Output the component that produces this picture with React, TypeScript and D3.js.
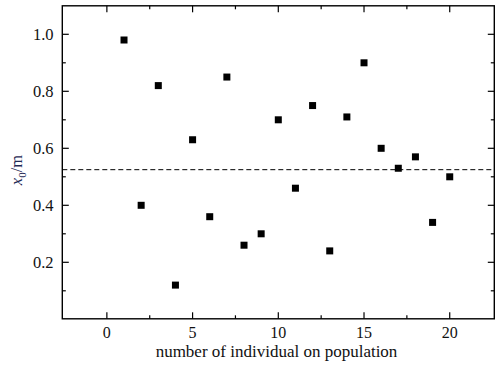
import { useEffect, useRef } from 'react';
import * as d3 from 'd3';

const individuals = [1, 2, 3, 4, 5, 6, 7, 8, 9, 10, 11, 12, 13, 14, 15, 16, 17, 18, 19, 20];
const x0Values = [0.98, 0.4, 0.82, 0.12, 0.63, 0.36, 0.85, 0.26, 0.3, 0.7, 0.46, 0.75, 0.24, 0.71, 0.9, 0.6, 0.53, 0.57, 0.34, 0.5];
const referenceLevel = 0.525;

const xMajorTicks = [0, 5, 10, 15, 20];
const xMinorTicks = [2.5, 7.5, 12.5, 17.5];
const yMajorTicks = [0.2, 0.4, 0.6, 0.8, 1.0];
const yMinorTicks = [0.1, 0.3, 0.5, 0.7, 0.9];

export default function App() {
  const svgRef = useRef<SVGSVGElement | null>(null);

  useEffect(() => {
    const svgElement = svgRef.current;
    if (!svgElement) {
      return;
    }
    const svg = d3.select(svgElement);
    svg.selectAll('*').remove();

    const width = 504;
    const height = 369;
    const left = 62.3;
    const right = 494.3;
    const top = 5.8;
    const bottom = 318.8;

    svg.attr('width', width).attr('height', height).attr('viewBox', `0 0 ${width} ${height}`);

    const x = d3.scaleLinear().domain([-2.6, 22.6]).range([left, right]);
    const y = d3.scaleLinear().domain([0, 1.1]).range([319.3, 5.8]);

    const font = '"Liberation Serif", "Times New Roman", serif';
    const ink = '#111';

    // reference line
    svg
      .append('line')
      .attr('x1', left)
      .attr('x2', right)
      .attr('y1', y(referenceLevel))
      .attr('y2', y(referenceLevel))
      .attr('stroke', '#000')
      .attr('stroke-width', 1)
      .attr('stroke-dasharray', '5 3');

    // points
    const points = individuals.map((n, i) => ({ n, v: x0Values[i]! }));
    const size = 7;
    svg
      .append('g')
      .selectAll('rect')
      .data(points)
      .join('rect')
      .attr('x', (d) => x(d.n) - size / 2)
      .attr('y', (d) => y(d.v) - size / 2)
      .attr('width', size)
      .attr('height', size)
      .attr('fill', '#000');

    // ticks on all four sides, pointing inward
    const ticks = svg.append('g').attr('stroke', '#000').attr('stroke-width', 1.2);
    const major = 6.5;
    const minor = 3.5;
    const xTicks = [...xMajorTicks.map((v) => ({ v, len: major })), ...xMinorTicks.map((v) => ({ v, len: minor }))];
    const yTicks = [...yMajorTicks.map((v) => ({ v, len: major })), ...yMinorTicks.map((v) => ({ v, len: minor }))];

    ticks
      .selectAll('line.xb')
      .data(xTicks)
      .join('line')
      .attr('class', 'xb')
      .attr('x1', (d) => x(d.v))
      .attr('x2', (d) => x(d.v))
      .attr('y1', bottom)
      .attr('y2', (d) => bottom - d.len);
    ticks
      .selectAll('line.xt')
      .data(xTicks)
      .join('line')
      .attr('class', 'xt')
      .attr('x1', (d) => x(d.v))
      .attr('x2', (d) => x(d.v))
      .attr('y1', top)
      .attr('y2', (d) => top + d.len);
    ticks
      .selectAll('line.yl')
      .data(yTicks)
      .join('line')
      .attr('class', 'yl')
      .attr('y1', (d) => y(d.v))
      .attr('y2', (d) => y(d.v))
      .attr('x1', left)
      .attr('x2', (d) => left + d.len);
    ticks
      .selectAll('line.yr')
      .data(yTicks)
      .join('line')
      .attr('class', 'yr')
      .attr('y1', (d) => y(d.v))
      .attr('y2', (d) => y(d.v))
      .attr('x1', right)
      .attr('x2', (d) => right - d.len);

    // frame
    svg
      .append('rect')
      .attr('x', left)
      .attr('y', top)
      .attr('width', right - left)
      .attr('height', bottom - top)
      .attr('fill', 'none')
      .attr('stroke', '#000')
      .attr('stroke-width', 1.4);

    // tick labels
    svg
      .append('g')
      .selectAll('text')
      .data(xMajorTicks)
      .join('text')
      .attr('x', (d) => x(d))
      .attr('y', 338)
      .attr('text-anchor', 'middle')
      .attr('font-family', font)
      .attr('font-size', 16)
      .attr('fill', ink)
      .text((d) => d3.format('d')(d));

    svg
      .append('g')
      .selectAll('text')
      .data(yMajorTicks)
      .join('text')
      .attr('x', 53.5)
      .attr('y', (d) => y(d) + 6)
      .attr('text-anchor', 'end')
      .attr('font-family', font)
      .attr('font-size', 16.5)
      .attr('fill', ink)
      .text((d) => d3.format('.1f')(d));

    // axis titles
    svg
      .append('text')
      .attr('x', 276.5)
      .attr('y', 357)
      .attr('text-anchor', 'middle')
      .attr('font-family', font)
      .attr('font-size', 17)
      .attr('fill', ink)
      .text('number of individual on population');

    const yTitle = svg
      .append('text')
      .attr('transform', 'translate(22,170) rotate(-90)')
      .attr('text-anchor', 'middle')
      .attr('font-family', font)
      .attr('font-size', 16.5)
      .attr('fill', '#1f2a55');
    yTitle.append('tspan').attr('font-style', 'italic').text('x');
    yTitle.append('tspan').attr('font-size', 11).attr('dy', 4).text('0');
    yTitle.append('tspan').attr('dy', -4).text('/m');
  }, []);

  return <svg ref={svgRef} style={{ position: 'absolute', left: 0, top: 0, display: 'block' }} />;
}
